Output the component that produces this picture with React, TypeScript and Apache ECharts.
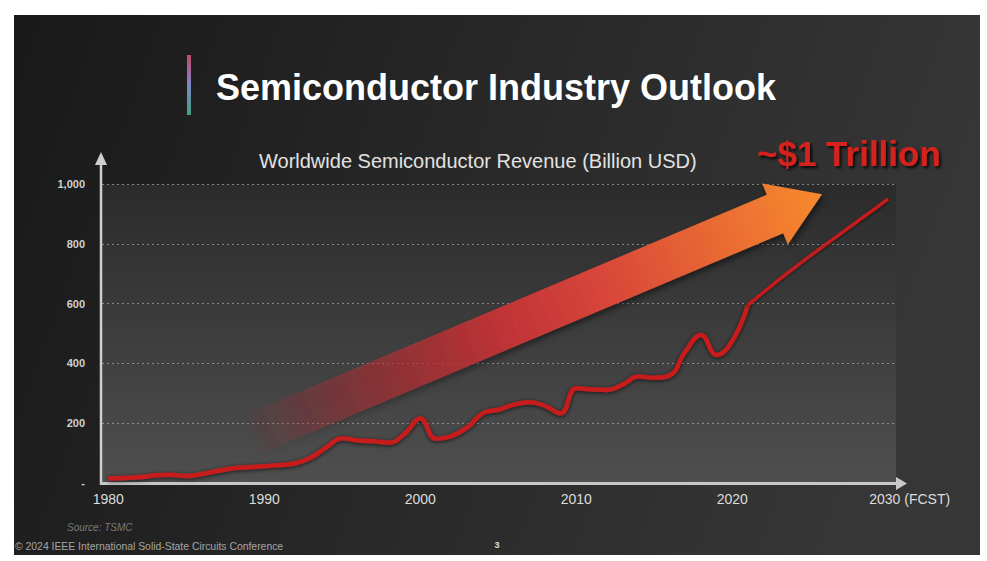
import React, { useEffect, useRef } from "react";
import * as echarts from "echarts";

// ---- data ----
const histYears = [
  1980, 1981, 1982, 1983, 1984, 1985, 1986, 1987, 1988, 1989,
  1990, 1991, 1992, 1993, 1994, 1995, 1996, 1997, 1998, 1999,
  2000, 2001, 2002, 2003, 2004, 2005, 2006, 2007, 2008, 2009,
  2010, 2011, 2012, 2013, 2014, 2015, 2016, 2017, 2018, 2019,
  2020, 2021,
];
const histRevenue = [
  16, 17, 19, 26, 28, 23, 30, 40, 49, 53,
  56, 60, 66, 85, 120, 150, 142, 140, 135, 165,
  216, 148, 157, 185, 233, 245, 262, 270, 258, 233,
  317, 313, 311, 330, 356, 352, 360, 440, 495, 428,
  475, 595,
];
const fcstYears = [2021, 2022, 2023, 2024, 2025, 2026, 2027, 2028, 2029, 2030];
const fcstRevenue = [595, 638, 680, 720, 760, 798, 836, 874, 912, 950];
const xTickLabels = [1980, 1990, 2000, 2010, 2020, 2030];
const forecastYear = 2030;

const FONT = '"Liberation Sans", Arial, Helvetica, sans-serif';

export default function App() {
  const ref = useRef<HTMLDivElement>(null);

  useEffect(() => {
    document.body.style.margin = "0";
    if (!ref.current) return;
    const chart = echarts.init(ref.current, undefined, { renderer: "svg" });

    const histData = histYears.map((y, i) => [y, histRevenue[i]]);
    const fcstData = fcstYears.map((y, i) => [y, fcstRevenue[i]]);

    // arrow geometry (decoration)
    const arrowPts = [
      [241.8, 416.2],
      [766.8, 194.7],
      [762.2, 183.6],
      [822.0, 194.2],
      [787.8, 244.4],
      [783.2, 233.3],
      [258.2, 454.8],
    ];

    const option: any = {
      animation: false,
      backgroundColor: "transparent",
      grid: {
        left: 102,
        right: 91,
        top: 184,
        bottom: 78,
        show: true,
        borderWidth: 0,
        backgroundColor: new echarts.graphic.LinearGradient(0, 0, 0, 1, [
          { offset: 0, color: "#2b2b2b" },
          { offset: 1, color: "#4f4f4f" },
        ]),
      },
      xAxis: {
        type: "value",
        min: 1979.6,
        max: 2030.5,
        axisLine: { show: false },
        axisTick: { show: false },
        splitLine: { show: false },
        axisLabel: {
          customValues: xTickLabels,
          margin: 9,
          color: "#dcdcdc",
          fontSize: 14,
          fontFamily: FONT,
          formatter: (v: number) =>
            v === forecastYear ? "{f|" + v + " (FCST)}" : String(v),
          rich: {
            f: {
              color: "#dcdcdc",
              fontSize: 14,
              fontFamily: FONT,
              padding: [0, 0, 0, 43],
            },
          },
        },
      },
      yAxis: {
        type: "value",
        min: 0,
        max: 1000,
        interval: 200,
        axisLine: { show: false },
        axisTick: { show: false },
        axisLabel: {
          margin: 17,
          color: "#cfcfcf",
          fontSize: 11,
          fontWeight: "bold",
          fontFamily: FONT,
          formatter: (v: number) => (v === 0 ? "-" : v.toLocaleString("en-US")),
        },
        splitLine: {
          lineStyle: { color: "rgba(200,200,200,0.55)", width: 1, type: [2, 3] },
        },
      },
      series: [
        {
          type: "line",
          data: histData,
          smooth: 0.45,
          showSymbol: false,
          symbol: "none",
          z: 5,
          lineStyle: {
            color: "#c81d1d",
            width: 4.5,
            shadowColor: "rgba(0,0,0,0.7)",
            shadowBlur: 4,
            shadowOffsetY: 1,
          },
        },
        {
          type: "line",
          data: fcstData,
          smooth: false,
          showSymbol: false,
          symbol: "none",
          z: 5,
          lineStyle: {
            color: "#c41b1b",
            width: 3.4,
            shadowColor: "rgba(0,0,0,0.6)",
            shadowBlur: 3,
            shadowOffsetY: 1,
          },
        },
      ],
      graphic: [
        {
          type: "rect",
          z: -100,
          silent: true,
          shape: { x: 14, y: 15, width: 966, height: 540 },
          style: {
            fill: new echarts.graphic.LinearGradient(0, 0, 1, 0.2, [
              { offset: 0, color: "#191919" },
              { offset: 1, color: "#363636" },
            ]),
          },
        },
        // title accent bar
        {
          type: "rect",
          shape: { x: 187, y: 55, width: 4, height: 60 },
          style: {
            fill: new echarts.graphic.LinearGradient(0, 0, 0, 1, [
              { offset: 0, color: "#c24a6a" },
              { offset: 0.5, color: "#8086c8" },
              { offset: 1, color: "#3fa37e" },
            ]),
          },
        },
        {
          type: "text",
          style: {
            text: "Semiconductor Industry Outlook",
            x: 216,
            y: 87,
            textAlign: "left",
            textVerticalAlign: "middle",
            font: "bold 36px " + FONT,
            fill: "#ffffff",
          },
        },
        {
          type: "text",
          style: {
            text: "Worldwide Semiconductor Revenue (Billion USD)",
            x: 259,
            y: 161,
            textAlign: "left",
            textVerticalAlign: "middle",
            font: "20px " + FONT,
            fill: "#e2e2e2",
          },
        },
        {
          type: "text",
          z: 10,
          style: {
            text: "~$1 Trillion",
            x: 757,
            y: 153,
            textAlign: "left",
            textVerticalAlign: "middle",
            font: "bold 35px " + FONT,
            fill: "#d4231d",
            textShadowColor: "rgba(0,0,0,0.85)",
            textShadowBlur: 3,
            textShadowOffsetX: 2,
            textShadowOffsetY: 2,
          },
        },
        // growth arrow
        {
          type: "polygon",
          z: 3,
          shape: { points: arrowPts },
          style: {
            fill: new echarts.graphic.LinearGradient(
              250, 440, 822, 194,
              [
                { offset: 0, color: "rgba(190,40,50,0)" },
                { offset: 0.18, color: "rgba(195,45,52,0.4)" },
                { offset: 0.45, color: "rgba(205,52,56,0.9)" },
                { offset: 0.62, color: "#d9463a" },
                { offset: 1, color: "#f78a2c" },
              ],
              true
            ),
            shadowColor: "rgba(0,0,0,0.5)",
            shadowBlur: 6,
            shadowOffsetX: 2,
            shadowOffsetY: 3,
          },
        },
        // axes with arrowheads
        {
          type: "line",
          z: 4,
          shape: { x1: 101, y1: 485, x2: 101, y2: 160 },
          style: { stroke: "#cfcfcf", lineWidth: 2.5 },
        },
        {
          type: "polygon",
          z: 4,
          shape: { points: [[95, 165], [107, 165], [101, 152]] },
          style: { fill: "#cfcfcf" },
        },
        {
          type: "line",
          z: 4,
          shape: { x1: 100, y1: 483.5, x2: 898, y2: 483.5 },
          style: { stroke: "#c8c8c8", lineWidth: 3 },
        },
        {
          type: "polygon",
          z: 4,
          shape: { points: [[896, 477], [896, 490], [907, 483.5]] },
          style: { fill: "#c8c8c8" },
        },
        // footer
        {
          type: "text",
          style: {
            text: "Source: TSMC",
            x: 67,
            y: 527,
            textAlign: "left",
            textVerticalAlign: "middle",
            font: "italic 10px " + FONT,
            fill: "#7a7a7a",
          },
        },
        {
          type: "text",
          style: {
            text: "© 2024 IEEE International Solid-State Circuits Conference",
            x: 15,
            y: 546,
            textAlign: "left",
            textVerticalAlign: "middle",
            font: "10.4px " + FONT,
            fill: "#a5a5a5",
          },
        },
        {
          type: "text",
          style: {
            text: "3",
            x: 497,
            y: 545,
            textAlign: "center",
            textVerticalAlign: "middle",
            font: "bold 9px " + FONT,
            fill: "#e0e0e0",
          },
        },
      ],
    };

    chart.setOption(option);
    return () => chart.dispose();
  }, []);

  return (
    <div
      ref={ref}
      style={{ width: 987, height: 561, background: "#ffffff" }}
    />
  );
}
